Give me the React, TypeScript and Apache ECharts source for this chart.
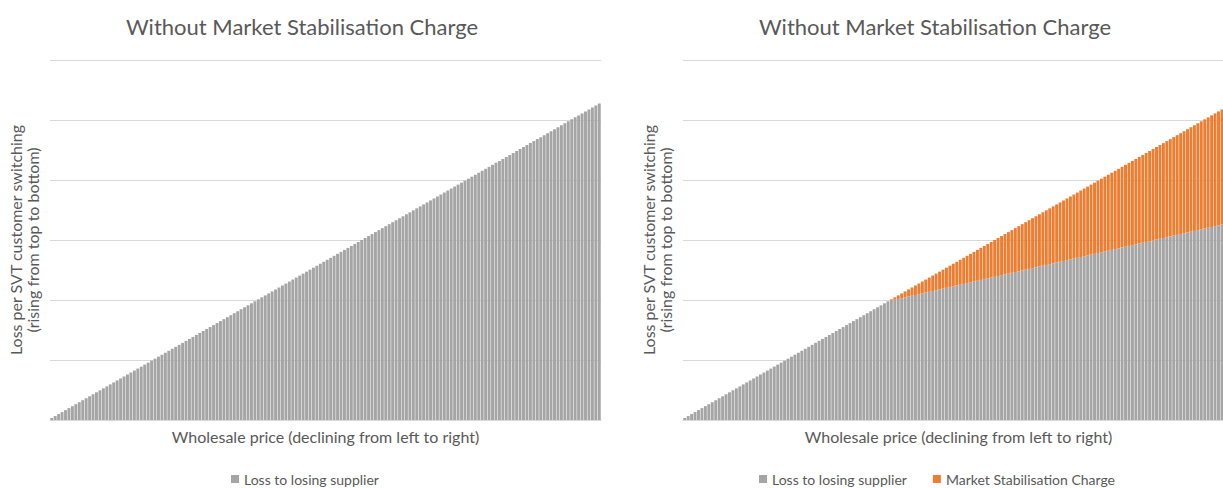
import React, { useEffect, useRef } from "react";
import * as echarts from "echarts";

const chartTitle = "Without Market Stabilisation Charge";
const xName = "Wholesale price (declining from left to right)";
const yName = "Loss per SVT customer switching\n(rising from top to bottom)";
const grayName = "Loss to losing supplier";
const orangeName = "Market Stabilisation Charge";

// Left panel: loss to losing supplier (no charge)
const lossNoCharge = [
  1, 2, 3, 4, 5, 6, 7, 8, 9, 10, 11, 12, 13, 14, 15, 16, 17, 18, 19, 20,
  21, 22, 23, 24, 25, 26, 27, 28, 29, 30, 31, 32, 33, 34, 35, 36, 37, 38, 39, 40,
  41, 42, 43, 44, 45, 46, 47, 48, 49, 50, 51, 52, 53, 54, 55, 56, 57, 58, 59, 60,
  61, 62, 63, 64, 65, 66, 67, 68, 69, 70, 71, 72, 73, 74, 75, 76, 77, 78, 79, 80,
  81, 82, 83, 84, 85, 86, 87, 88, 89, 90, 91, 92, 93, 94, 95, 96, 97, 98, 99, 100,
  101, 102, 103, 104, 105, 106, 107, 108, 109, 110, 111, 112, 113, 114, 115, 116, 117, 118, 119, 120,
  121, 122, 123, 124, 125, 126, 127, 128, 129, 130, 131, 132, 133, 134, 135, 136, 137, 138, 139, 140,
  141, 142, 143, 144, 145, 146, 147, 148, 149, 150, 151, 152, 153, 154, 155, 156, 157, 158, 159, 160,
];

// Right panel: loss to losing supplier (with charge)
const lossWithCharge = [
  1, 2, 3, 4, 5, 6, 7, 8, 9, 10, 11, 12, 13, 14, 15, 16, 17, 18, 19, 20,
  21, 22, 23, 24, 25, 26, 27, 28, 29, 30, 31, 32, 33, 34, 35, 36, 37, 38, 39, 40,
  41, 42, 43, 44, 45, 46, 47, 48, 49, 50, 51, 52, 53, 54, 55, 56, 57, 58, 59, 60,
  60.4, 60.8, 61.2, 61.6, 62, 62.4, 62.8, 63.2, 63.6, 64, 64.4, 64.8, 65.2, 65.6, 66, 66.4, 66.8, 67.2, 67.6, 68,
  68.4, 68.8, 69.2, 69.6, 70, 70.4, 70.8, 71.2, 71.6, 72, 72.4, 72.8, 73.2, 73.6, 74, 74.4, 74.8, 75.2, 75.6, 76,
  76.4, 76.8, 77.2, 77.6, 78, 78.4, 78.8, 79.2, 79.6, 80, 80.4, 80.8, 81.2, 81.6, 82, 82.4, 82.8, 83.2, 83.6, 84,
  84.4, 84.8, 85.2, 85.6, 86, 86.4, 86.8, 87.2, 87.6, 88, 88.4, 88.8, 89.2, 89.6, 90, 90.4, 90.8, 91.2, 91.6, 92,
  92.4, 92.8, 93.2, 93.6, 94, 94.4, 94.8, 95.2, 95.6, 96, 96.4, 96.8, 97.2, 97.6, 98, 98.4, 98.8, 99.2, 99.6, 100,
];

// Right panel: market stabilisation charge (stacked on top)
const stabilisationCharge = [
  0, 0, 0, 0, 0, 0, 0, 0, 0, 0, 0, 0, 0, 0, 0, 0, 0, 0, 0, 0,
  0, 0, 0, 0, 0, 0, 0, 0, 0, 0, 0, 0, 0, 0, 0, 0, 0, 0, 0, 0,
  0, 0, 0, 0, 0, 0, 0, 0, 0, 0, 0, 0, 0, 0, 0, 0, 0, 0, 0, 0,
  0.6, 1.2, 1.8, 2.4, 3, 3.6, 4.2, 4.8, 5.4, 6, 6.6, 7.2, 7.8, 8.4, 9, 9.6, 10.2, 10.8, 11.4, 12,
  12.6, 13.2, 13.8, 14.4, 15, 15.6, 16.2, 16.8, 17.4, 18, 18.6, 19.2, 19.8, 20.4, 21, 21.6, 22.2, 22.8, 23.4, 24,
  24.6, 25.2, 25.8, 26.4, 27, 27.6, 28.2, 28.8, 29.4, 30, 30.6, 31.2, 31.8, 32.4, 33, 33.6, 34.2, 34.8, 35.4, 36,
  36.6, 37.2, 37.8, 38.4, 39, 39.6, 40.2, 40.8, 41.4, 42, 42.6, 43.2, 43.8, 44.4, 45, 45.6, 46.2, 46.8, 47.4, 48,
  48.6, 49.2, 49.8, 50.4, 51, 51.6, 52.2, 52.8, 53.4, 54, 54.6, 55.2, 55.8, 56.4, 57, 57.6, 58.2, 58.8, 59.4, 60,
];

const categories = lossNoCharge.map((_, i) => String(i + 1));

const FONT = "Lato, 'Open Sans', sans-serif";
const TXT = "#595959";
const GRAY = "#A5A5A5";
const ORANGE = "#ED7D31";
const GRID = "#D9D9D9";

export default function App() {
  const ref = useRef<HTMLDivElement>(null);
  useEffect(() => {
    if (!ref.current) return;
    const chart = echarts.init(ref.current, null, { renderer: "svg" });
    const yMax = 182;
    const mkX = (gridIndex: number) => ({
      type: "category" as const,
      gridIndex,
      data: categories,
      axisTick: { show: false },
      axisLabel: { show: false },
      axisLine: { show: true, lineStyle: { color: GRID, width: 1 } },
      name: xName,
      nameLocation: "middle" as const,
      nameGap: 8,
      nameTextStyle: { color: TXT, fontSize: 16, fontFamily: FONT },
    });
    const mkY = (gridIndex: number) => ({
      type: "value" as const,
      gridIndex,
      min: 0,
      max: yMax,
      interval: yMax / 6,
      axisLabel: { show: false },
      axisTick: { show: false },
      axisLine: { show: false },
      splitLine: { show: true, lineStyle: { color: GRID, width: 1 } },
      name: yName,
      nameLocation: "middle" as const,
      nameRotate: 90,
      nameGap: 9,
      nameTextStyle: { color: TXT, fontSize: 16, fontFamily: FONT, lineHeight: 17 },
    });
    const titleStyle = { color: TXT, fontSize: 22, fontWeight: "normal" as const, fontFamily: FONT };
    const legendText = { color: TXT, fontSize: 14, fontFamily: FONT };
    chart.setOption({
      animation: false,
      textStyle: { fontFamily: FONT },
      title: [
        { text: chartTitle, left: 297, top: 10, textAlign: "center", textStyle: titleStyle },
        { text: chartTitle, left: 930, top: 10, textAlign: "center", textStyle: titleStyle },
      ],
      legend: [
        {
          data: [grayName],
          left: 231,
          top: 472,
          padding: 0,
          itemWidth: 8,
          itemHeight: 8,
          icon: "rect",
          textStyle: legendText,
        },
        {
          data: [grayName, orangeName],
          left: 759,
          top: 472,
          padding: 0,
          itemWidth: 8,
          itemHeight: 8,
          itemGap: 26,
          icon: "rect",
          textStyle: legendText,
        },
      ],
      grid: [
        { left: 50, top: 60, width: 551, height: 360 },
        { left: 683, top: 60, width: 551, height: 360 },
      ],
      xAxis: [mkX(0), mkX(1)],
      yAxis: [mkY(0), mkY(1)],
      series: [
        {
          name: grayName,
          type: "bar",
          xAxisIndex: 0,
          yAxisIndex: 0,
          data: lossNoCharge,
          barCategoryGap: "15%",
          itemStyle: { color: GRAY },
        },
        {
          name: grayName,
          type: "bar",
          xAxisIndex: 1,
          yAxisIndex: 1,
          stack: "r",
          data: lossWithCharge,
          barCategoryGap: "15%",
          itemStyle: { color: GRAY },
        },
        {
          name: orangeName,
          type: "bar",
          xAxisIndex: 1,
          yAxisIndex: 1,
          stack: "r",
          data: stabilisationCharge,
          barCategoryGap: "15%",
          itemStyle: { color: ORANGE },
        },
      ],
    });
    return () => chart.dispose();
  }, []);
  return (
    <div
      style={{
        position: "fixed",
        left: 0,
        top: 0,
        width: 1223,
        height: 488,
        overflow: "hidden",
        background: "#fff",
      }}
    >
      <div ref={ref} style={{ width: 1245, height: 488 }} />
    </div>
  );
}
